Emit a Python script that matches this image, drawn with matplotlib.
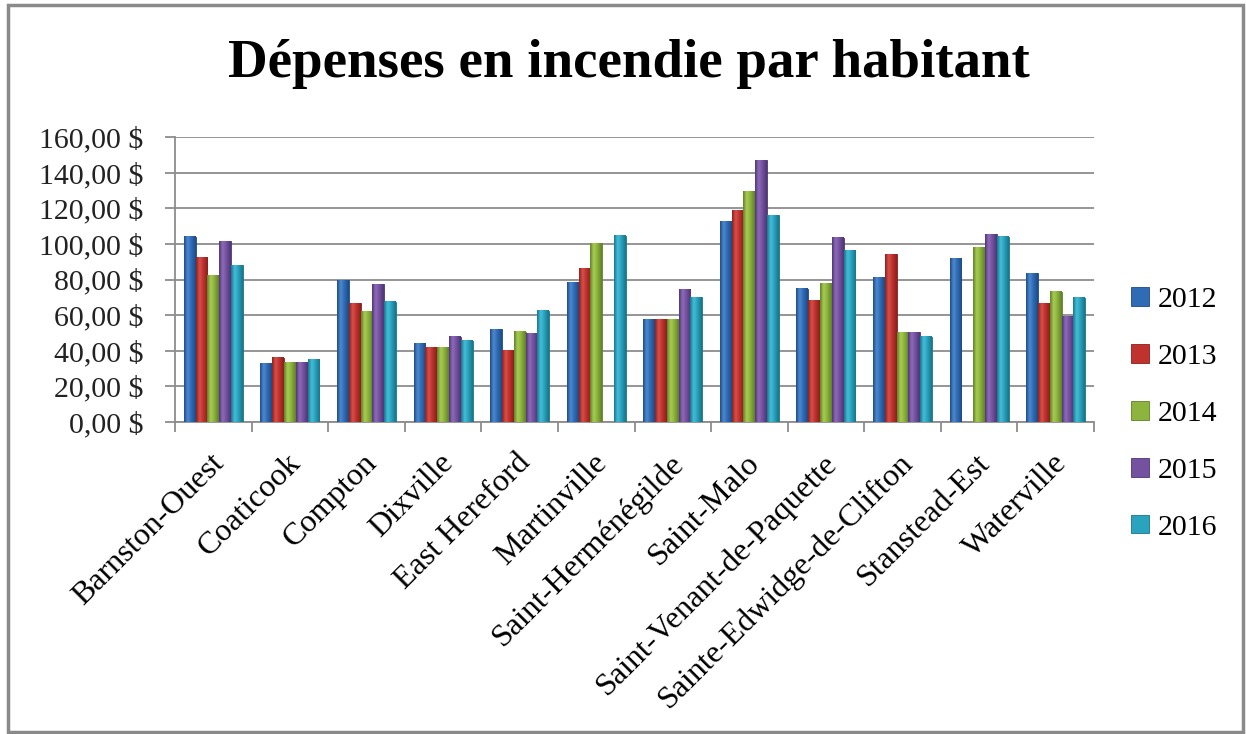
import matplotlib.pyplot as plt
import matplotlib.patches as mpatches
import matplotlib.transforms as mtransforms
from matplotlib.colors import LinearSegmentedColormap
import numpy as np

plt.rcParams['font.family'] = ['Liberation Serif', 'DejaVu Serif']

municipalites = ['Barnston-Ouest', 'Coaticook', 'Compton', 'Dixville', 'East Hereford',
                 'Martinville', 'Saint-Herménégilde', 'Saint-Malo', 'Saint-Venant-de-Paquette',
                 'Sainte-Edwidge-de-Clifton', 'Stanstead-Est', 'Waterville']
annees = ['2012', '2013', '2014', '2015', '2016']

dep_2012 = [104.0, 32.7, 79.7, 44.2, 52.1, 78.2, 57.7, 112.8, 74.9, 81.2, 91.7, 83.6]
dep_2013 = [92.2, 36.0, 66.8, 41.6, 40.1, 86.3, 57.7, 118.9, 68.1, 94.3, np.nan, 66.6]
dep_2014 = [82.1, 33.6, 62.0, 41.6, 50.6, 100.3, 57.7, 129.2, 78.0, 50.4, 98.2, 73.2]
dep_2015 = [101.6, 33.4, 77.3, 48.0, 49.9, np.nan, 74.5, 147.0, 103.4, 50.4, 105.5, 59.5]
dep_2016 = [88.0, 35.3, 67.6, 45.7, 62.5, 104.5, 70.0, 116.1, 96.0, 48.0, 104.0, 69.8]

series = [dep_2012, dep_2013, dep_2014, dep_2015, dep_2016]
couleurs = ['#2f6cb5', '#c0322e', '#8db43c', '#7452a0', '#2aa3bf']
clairs = ['#4f8ad0', '#d9504a', '#a8cc55', '#8f6cbb', '#45bfd9']
sombres = ['#1d4a85', '#8a1f1c', '#5f8028', '#4e3574', '#187489']

fig = plt.figure(figsize=(12.46, 7.34), dpi=100)
ax = fig.add_axes([175 / 1246, 1 - 422 / 734, (1094 - 175) / 1246, (422 - 137) / 734])

x = np.arange(len(municipalites))
larg = 0.154
grad = np.linspace(0, 1, 64).reshape(1, -1)
for k, vals in enumerate(series):
    barres = ax.bar(x + (k - 2) * larg, vals, width=larg, color=couleurs[k],
                    edgecolor=sombres[k], linewidth=0.6, label=annees[k], zorder=3)
    # petit effet de relief comme dans Excel
    cmap = LinearSegmentedColormap.from_list(
        'c%d' % k, [(0, sombres[k]), (0.3, clairs[k]), (0.6, couleurs[k]), (1, sombres[k])])
    for b in barres:
        h = b.get_height()
        if not np.isfinite(h) or h <= 0:
            continue
        x0 = b.get_x()
        ax.imshow(grad, cmap=cmap, extent=[x0, x0 + b.get_width(), 0, h],
                  aspect='auto', zorder=3.5, interpolation='bicubic')

ax.set_xlim(-0.5, len(municipalites) - 0.5)
ax.set_ylim(0, 160)
ax.set_yticks(np.arange(0, 161, 20))
ax.set_yticklabels([f'{v:.2f}'.replace('.', ',') + ' $' for v in np.arange(0, 161, 20)],
                   fontsize=21.5)
ax.yaxis.grid(True, color='#8c8c8c', linewidth=1.3, zorder=0)
ax.set_axisbelow(True)

ax.set_xticks(x)
ax.set_xticklabels(municipalites, rotation=45, ha='right', rotation_mode='anchor',
                   fontsize=23)
ax.tick_params(axis='x', length=0, pad=19)
decal = mtransforms.ScaledTranslation(-4 / 100, 0, fig.dpi_scale_trans)
for lab in ax.get_xticklabels():
    lab.set_transform(lab.get_transform() + decal)
ax.set_xticks(np.arange(-0.5, len(municipalites)), minor=True)
ax.tick_params(axis='x', which='minor', length=7, color='#8c8c8c', width=1.3)
ax.tick_params(axis='y', length=7, color='#8c8c8c', width=1.3, pad=16, labelcolor='#222222')
for s in ['top', 'right']:
    ax.spines[s].set_visible(False)
for s in ['left', 'bottom']:
    ax.spines[s].set_color('#8c8c8c')
    ax.spines[s].set_linewidth(1.3)

fig.text(629 / 1246, 1 - 64 / 734, 'Dépenses en incendie par habitant',
         ha='center', va='center', fontsize=39.5, fontweight='bold')

leg = fig.legend(loc='center left', bbox_to_anchor=(1104 / 1246, 1 - 414 / 734),
                 frameon=False, fontsize=21.5, handlelength=0.6, handleheight=0.6,
                 handletextpad=0.3, labelspacing=1.03)

fig.patches.append(mpatches.Rectangle((8 / 1246, 2 / 734), 1235 / 1246, 727 / 734,
                                      transform=fig.transFigure, fill=False,
                                      edgecolor='#8a8a8a', linewidth=2.5))

fig.savefig('out.png', dpi=100)
